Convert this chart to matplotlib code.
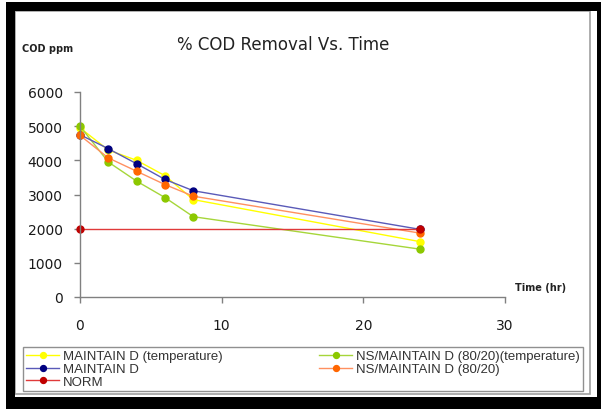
import matplotlib
matplotlib.use("Agg")
import matplotlib.pyplot as plt
from matplotlib.patches import Rectangle

# ---- data ----
time_hr = [0, 2, 4, 6, 8, 24]
maintain_temp = [4950, 4300, 4000, 3550, 2850, 1620]
ns_maintain_temp = [5000, 3950, 3390, 2910, 2350, 1400]
maintain = [4750, 4340, 3900, 3440, 3110, 1980]
ns_maintain = [4730, 4070, 3680, 3290, 2950, 1870]
norm_time = [0, 24]
norm = [2000, 2000]

labels = ["MAINTAIN D (temperature)", "NS/MAINTAIN D (80/20)(temperature)",
          "MAINTAIN D", "NS/MAINTAIN D (80/20)", "NORM"]
x_ticks = [0, 10, 20, 30]
y_ticks = [0, 1000, 2000, 3000, 4000, 5000, 6000]

W, H = 601, 410
fig = plt.figure(figsize=(W / 100, H / 100), dpi=100)

def fx(p):
    return p / W

def fy(p):
    return 1 - p / H

def rect(x0, y0, x1, y1, **kw):
    fig.patches.append(Rectangle((fx(x0), fy(y1)), fx(x1) - fx(x0), fy(y0) - fy(y1),
                                 transform=fig.transFigure, **kw))

# outer frame
rect(15, 12, 590, 395, facecolor="none", edgecolor="#a0a0a0", linewidth=1.2)
rect(6, 3, 15, 410, facecolor="black", edgecolor="none")
rect(6, 3, 601, 12, facecolor="black", edgecolor="none")
rect(6, 398, 601, 410, facecolor="black", edgecolor="none")
rect(597, 3, 601, 410, facecolor="black", edgecolor="none")

ax = fig.add_axes([fx(80), fy(298), fx(505) - fx(80), fy(93) - fy(298)])
ax.set_xlim(0, 30)
ax.set_ylim(0, 6000)

series = [
    (maintain_temp, "#FFFF00", "#FFFF00"),
    (ns_maintain_temp, "#A6D63A", "#8CC800"),
    (maintain, "#5A5AB8", "#000080"),
    (ns_maintain, "#FF9060", "#FF6600"),
]
handles = []
for (vals, lc, mc), lab in zip(series, labels[:4]):
    h, = ax.plot(time_hr, vals, color=lc, lw=1.0, marker="o", ms=5.0,
                 mfc=mc, mec=mc, label=lab, clip_on=False)
    handles.append(h)
h, = ax.plot(norm_time, norm, color="#E03A3A", lw=1.0, marker="o", ms=5.0,
             mfc="#C00000", mec="#C00000", label=labels[4], clip_on=False)
handles.append(h)

for s in ["top", "right"]:
    ax.spines[s].set_visible(False)
for s in ["left", "bottom"]:
    ax.spines[s].set_color("#808080")
    ax.spines[s].set_linewidth(1.0)

ax.set_xticks(x_ticks)
ax.set_yticks(y_ticks)
ax.tick_params(axis="y", direction="out", length=4, width=1, color="#808080",
               pad=8.5, labelsize=10, labelcolor="#1a1a1a")
ax.tick_params(axis="x", direction="out", length=4, width=1, color="#808080",
               pad=11, labelsize=10, labelcolor="#1a1a1a")

fig.text(fx(283.5), fy(45), "% COD Removal Vs. Time", ha="center", va="center",
         fontsize=12, color="#222222")
fig.text(fx(22), fy(49), "COD ppm", ha="left", va="center", fontsize=7,
         fontweight="bold", color="#222222")
fig.text(fx(515), fy(288), "Time (hr)", ha="left", va="center", fontsize=7,
         fontweight="bold", color="#222222")

order = [handles[0], handles[2], handles[4], handles[1], handles[3]]
leg = fig.legend(order, [h.get_label() for h in order], ncol=2, mode="expand",
                 bbox_to_anchor=(fx(23), fy(393), fx(583) - fx(23), fy(347) - fy(393)),
                 loc="center", frameon=True, fancybox=False,
                 edgecolor="#909090", framealpha=1, handlelength=2.5,
                 handletextpad=0.3, labelspacing=0.05, borderpad=0.25,
                 borderaxespad=0, markerscale=0.85,
                 prop={"family": "Liberation Sans", "size": 9.5})
leg.get_frame().set_linewidth(1.0)
for t in leg.get_texts():
    t.set_color("#333333")

fig.savefig("out.png", dpi=100)
